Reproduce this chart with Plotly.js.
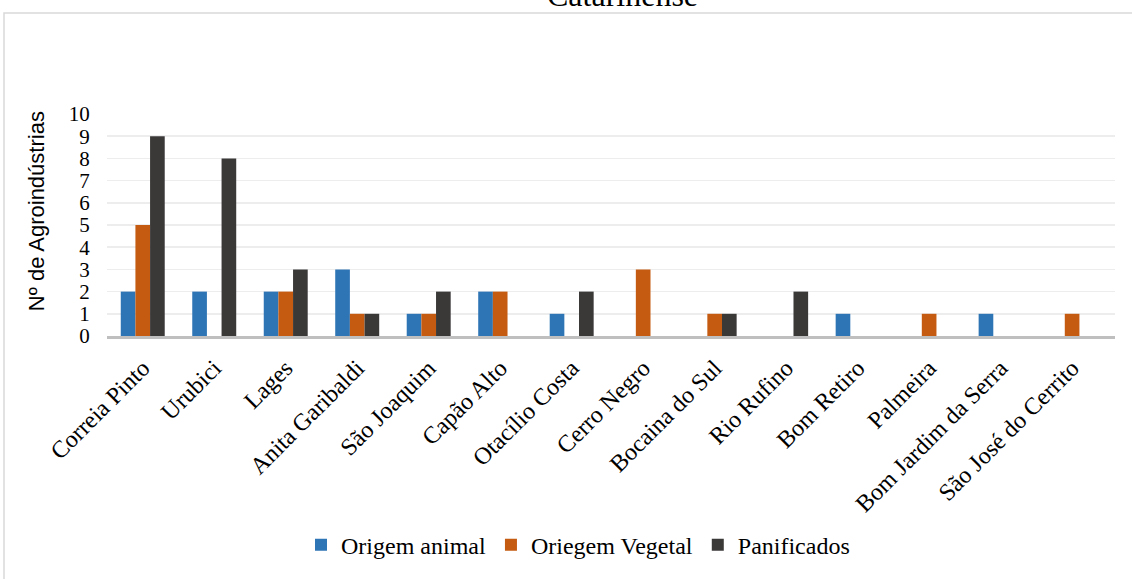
<!DOCTYPE html>
<html>
<head>
<meta charset="utf-8">
<script src="https://cdn.plot.ly/plotly-3.0.1.min.js"></script>
<style>
  html, body { margin: 0; padding: 0; background: #ffffff; }
  #chart { width: 1132px; height: 579px; }
</style>
</head>
<body>
<div id="chart"></div>
<script>
// Agroindústrias por município e tipo de produção
const municipios = [
  'Correia Pinto', 'Urubici', 'Lages', 'Anita Garibaldi', 'São Joaquim',
  'Capão Alto', 'Otacílio Costa', 'Cerro Negro', 'Bocaina do Sul', 'Rio Rufino',
  'Bom Retiro', 'Palmeira', 'Bom Jardim da Serra', 'São José do Cerrito'
];
const origemAnimal  = [2, 2, 2, 3, 1, 2, 1, 0, 0, 0, 1, 0, 1, 0];
const origemVegetal = [5, 0, 2, 1, 1, 2, 0, 3, 1, 0, 0, 1, 0, 1];
const panificados   = [9, 8, 3, 1, 2, 0, 2, 0, 1, 2, 0, 0, 0, 0];
const yTicks = [0, 1, 2, 3, 4, 5, 6, 7, 8, 9, 10];

const serif = 'Liberation Serif';
const sans = 'Liberation Sans';

const W = 1132, H = 579;
const M = { l: 107, r: 17, t: 114, b: 241 };
const pw = W - M.l - M.r, ph = H - M.t - M.b;
const px = x => (x - M.l) / pw;       // page pixel -> paper x
const py = y => (H - M.b - y) / ph;   // page pixel -> paper y

const traces = [
  { name: 'Origem animal', y: origemAnimal, color: '#2E75B6' },
  { name: 'Oriegem Vegetal', y: origemVegetal, color: '#C55A11' },
  { name: 'Panificados', y: panificados, color: '#3B3838' }
].map(s => ({
  type: 'bar',
  x: municipios,
  y: s.y,
  name: s.name,
  marker: { color: s.color, line: { width: 0 } },
  hoverinfo: 'x+y+name'
}));

const layout = {
  width: W, height: H,
  margin: M,
  paper_bgcolor: '#ffffff',
  plot_bgcolor: '#ffffff',
  font: { family: serif, color: '#000000' },
  barmode: 'group',
  bargap: 0.385,
  bargroupgap: 0,
  showlegend: true,
  legend: {
    orientation: 'h',
    x: px(578), xanchor: 'center',
    y: py(549), yanchor: 'middle',
    font: { family: serif, size: 24, color: '#000000' },
    itemwidth: 30,
    traceorder: 'normal'
  },
  xaxis: {
    type: 'category',
    range: [-0.5, 13.6],
    tickangle: -45,
    tickfont: { family: serif, size: 24, color: '#000000' },
    showgrid: false,
    showline: true,
    linecolor: '#BFBFBF',
    linewidth: 2.5,
    ticks: 'outside',
    ticklen: 6,
    tickcolor: 'rgba(0,0,0,0)',
    automargin: false
  },
  yaxis: {
    range: [0, 10],
    tickmode: 'array',
    tickvals: yTicks,
    ticktext: yTicks.map(String),
    tickfont: { family: serif, size: 21, color: '#000000' },
    ticks: 'outside',
    ticklen: 12,
    tickcolor: 'rgba(0,0,0,0)',
    showgrid: true,
    gridcolor: '#EDEDED',
    gridwidth: 1.5,
    zeroline: false,
    showline: false,
    automargin: false
  },
  annotations: [{
    text: 'Catarinense',
    xref: 'paper', yref: 'paper',
    x: px(622), y: py(-6),
    xanchor: 'center', yanchor: 'middle',
    showarrow: false,
    font: { family: serif, size: 32, color: '#000000' }
  }, {
    // y-axis title
    text: 'Nº de Agroindústrias',
    xref: 'paper', yref: 'paper',
    x: px(36), y: py(212),
    xanchor: 'center', yanchor: 'middle',
    textangle: -90,
    showarrow: false,
    font: { family: sans, size: 22, color: '#000000' }
  }],
  shapes: [{
    type: 'rect', xref: 'paper', yref: 'paper', layer: 'below',
    x0: px(4), x1: px(1145), y0: py(12), y1: py(600),
    line: { color: '#D9D9D9', width: 1.5 },
    fillcolor: 'rgba(0,0,0,0)'
  }]
};

Plotly.newPlot('chart', traces, layout, { displayModeBar: false, staticPlot: true });
</script>
</body>
</html>
